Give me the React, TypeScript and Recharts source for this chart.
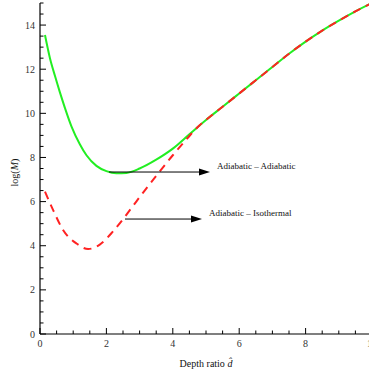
import React from "react";
import { LineChart, Line, XAxis, YAxis, ReferenceLine } from "recharts";

const greenX = [0.15, 0.3, 0.45, 0.6, 0.75, 0.95, 1.2, 1.4, 1.7, 2.0, 2.3, 2.6, 3.0, 3.5, 4.0, 4.5, 5.0, 5.5, 6.0, 6.5, 7.0, 7.5, 8.0, 8.5, 9.0, 9.5, 10.0];
const greenY = [13.55, 12.5, 11.7, 10.95, 10.25, 9.4, 8.6, 8.1, 7.62, 7.38, 7.28, 7.3, 7.5, 7.9, 8.4, 9.05, 9.7, 10.3, 10.9, 11.5, 12.1, 12.7, 13.25, 13.75, 14.2, 14.62, 15.0];
const redX = [0.15, 0.4, 0.7, 1.1, 1.45, 1.8, 2.2, 2.5, 2.8, 3.1, 3.6, 4.0, 4.4, 4.8, 5.0, 5.5, 6.0, 6.5, 7.0, 7.5, 8.0, 8.5, 9.0, 9.5, 10.0];
const redY = [6.45, 5.6, 4.7, 4.1, 3.85, 4.05, 4.65, 5.2, 5.8, 6.4, 7.35, 8.1, 8.8, 9.45, 9.7, 10.3, 10.9, 11.5, 12.1, 12.7, 13.25, 13.75, 14.2, 14.62, 15.0];

const xTicks = [0, 0.5, 1, 1.5, 2, 2.5, 3, 3.5, 4, 4.5, 5, 5.5, 6, 6.5, 7, 7.5, 8, 8.5, 9, 9.5, 10];
const yTicks = [0, 0.5, 1, 1.5, 2, 2.5, 3, 3.5, 4, 4.5, 5, 5.5, 6, 6.5, 7, 7.5, 8, 8.5, 9, 9.5, 10, 10.5, 11, 11.5, 12, 12.5, 13, 13.5, 14, 14.5, 15];
const majorX = [0, 2, 4, 6, 8, 10];
const majorY = [0, 2, 4, 6, 8, 10, 12, 14];

const arrowLabels = ["Adiabatic \u2013 Adiabatic", "Adiabatic \u2013 Isothermal"];
const arrowStartX = [2.08, 2.56];
const arrowEndX = [5.12, 4.88];
const arrowY = [7.34, 5.21];

const greenData = greenX.map((x, i) => ({ x, y: greenY[i] }));
const redData = redX.map((x, i) => ({ x, y: redY[i] }));

const FONT = "'Liberation Serif', 'DejaVu Serif', serif";
const TXT = "#333";

const tickLen = (major: boolean) => (major ? 6 : 3.5);

const BottomTick = (p: any) => {
  const v = p.payload.value;
  const major = majorX.includes(v);
  return (
    <g>
      <line x1={p.x} x2={p.x} y1={p.y} y2={p.y - tickLen(major)} stroke="#000" strokeWidth={1} />
      {major && (
        <text x={p.x} y={p.y + 13} textAnchor="middle" fontSize={10} fontFamily={FONT} fill={TXT}>
          {v}
        </text>
      )}
    </g>
  );
};

const TopTick = (p: any) => {
  const v = p.payload.value;
  const major = majorX.includes(v);
  return <line x1={p.x} x2={p.x} y1={p.y} y2={p.y + tickLen(major)} stroke="#000" strokeWidth={1} />;
};

const LeftTick = (p: any) => {
  const v = p.payload.value;
  const major = majorY.includes(v);
  return (
    <g>
      <line x1={p.x} x2={p.x + tickLen(major)} y1={p.y} y2={p.y} stroke="#000" strokeWidth={1} />
      {major && (
        <text x={p.x - 5} y={p.y + 3.5} textAnchor="end" fontSize={10} fontFamily={FONT} fill={TXT}>
          {v}
        </text>
      )}
    </g>
  );
};

const RightTick = (p: any) => {
  const v = p.payload.value;
  const major = majorY.includes(v);
  return <line x1={p.x} x2={p.x - tickLen(major)} y1={p.y} y2={p.y} stroke="#000" strokeWidth={1} />;
};

const makeArrow = (label: string) => (p: any) => {
  const { x1, y1, x2 } = p;
  return (
    <g>
      <line x1={x1} y1={y1} x2={x2 - 9} y2={y1} stroke="#000" strokeWidth={1} />
      <polygon points={`${x2},${y1} ${x2 - 11},${y1 - 3.5} ${x2 - 11},${y1 + 3.5}`} fill="#000" />
      <text x={x2 + 7} y={y1 - 3} fontSize={9} fontFamily={FONT} fill="#111">
        {label}
      </text>
    </g>
  );
};

const XLabel = (p: any) => {
  const vb = p.viewBox;
  const cx = vb.x + vb.width / 2;
  return (
    <text x={cx} y={vb.y + 33} textAnchor="middle" fontSize={10} fontFamily={FONT} fill="#111">
      Depth ratio <tspan fontStyle="italic">{"d\u0302"}</tspan>
    </text>
  );
};

const YLabel = (p: any) => {
  const vb = p.viewBox;
  const cy = vb.y + vb.height / 2;
  const x = 18;
  return (
    <text x={x} y={cy + 4} transform={`rotate(-90 ${x} ${cy + 4})`} textAnchor="middle" fontSize={10} fontFamily={FONT} fill="#111">
      log(<tspan fontStyle="italic">M</tspan>)
    </text>
  );
};

export default function App() {
  return (
    <div style={{ position: "absolute", left: 0, top: 0 }}>
      <LineChart width={380} height={376} margin={{ top: 3, right: 8, left: 0, bottom: 0 }}>
        <XAxis
          xAxisId="b"
          dataKey="x"
          type="number"
          domain={[0, 10]}
          ticks={xTicks}
          interval={0}
          tickSize={0}
          tickMargin={0}
          tickLine={false}
          tick={BottomTick}
          height={42}
          axisLine={{ stroke: "#000", strokeWidth: 1.2 }}
          allowDataOverflow
          label={<XLabel />}
        />
        <XAxis
          xAxisId="t"
          orientation="top"
          dataKey="x"
          type="number"
          domain={[0, 10]}
          ticks={xTicks}
          interval={0}
          tickSize={0}
          tickMargin={0}
          tickLine={false}
          tick={TopTick}
          height={0}
          axisLine={{ stroke: "#000", strokeWidth: 1.2 }}
        />
        <YAxis
          yAxisId="l"
          type="number"
          domain={[0, 15]}
          ticks={yTicks}
          interval={0}
          tickSize={0}
          tickMargin={0}
          tickLine={false}
          tick={LeftTick}
          width={40}
          axisLine={{ stroke: "#000", strokeWidth: 1.2 }}
          allowDataOverflow
          label={<YLabel />}
        />
        <YAxis
          yAxisId="r"
          orientation="right"
          type="number"
          domain={[0, 15]}
          ticks={yTicks}
          interval={0}
          tickSize={0}
          tickMargin={0}
          tickLine={false}
          tick={RightTick}
          width={0}
          axisLine={{ stroke: "#000", strokeWidth: 1.2 }}
        />
        <Line
          xAxisId="b"
          yAxisId="l"
          data={greenData}
          dataKey="y"
          type="monotone"
          stroke="#22ee22"
          strokeWidth={2}
          dot={false}
          isAnimationActive={false}
        />
        <Line
          xAxisId="b"
          yAxisId="l"
          data={redData}
          dataKey="y"
          type="monotone"
          stroke="#ff2222"
          strokeWidth={2}
          strokeDasharray="8 6"
          dot={false}
          isAnimationActive={false}
        />
        {arrowLabels.map((lab, i) => (
          <ReferenceLine
            key={lab}
            xAxisId="b"
            yAxisId="l"
            segment={[
              { x: arrowStartX[i], y: arrowY[i] },
              { x: arrowEndX[i], y: arrowY[i] },
            ]}
            shape={makeArrow(lab)}
            ifOverflow="visible"
          />
        ))}
      </LineChart>
    </div>
  );
}
